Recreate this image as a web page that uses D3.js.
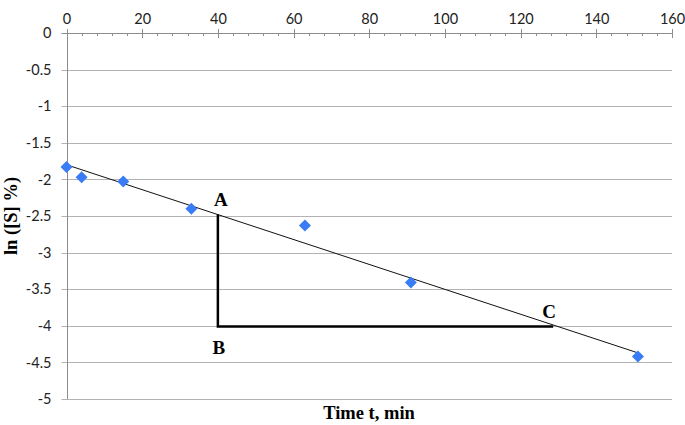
<!DOCTYPE html>
<html>
<head>
<meta charset="utf-8">
<script src="https://cdn.jsdelivr.net/npm/d3@7"></script>
<style>
  body { margin: 0; background: #fff; }
  svg { display: block; }
</style>
</head>
<body>
<div id="chart"></div>
<script>
// measured points: time (min) vs ln([S] %)
const timeMin = [0, 4, 15, 33, 63, 91, 151];
const lnS = [-1.83, -1.97, -2.03, -2.40, -2.63, -3.41, -4.42];

// fitted trend line end points
const trendX = [0, 151];
const trendY = [-1.80, -4.37];

// slope triangle A-B-C
const triLabels = ['A', 'B', 'C'];
const triX = [40, 40, 128.6];
const triY = [-2.48, -4.01, -4.01];

const xTicks = [0, 20, 40, 60, 80, 100, 120, 140, 160];
const yTicks = [0, -0.5, -1, -1.5, -2, -2.5, -3, -3.5, -4, -4.5, -5];

const width = 685, height = 425;
const margin = { left: 66.5, right: 13, top: 33, bottom: 26 };

const svg = d3.select('#chart').append('svg')
  .attr('width', width)
  .attr('height', height);

const x = d3.scaleLinear().domain([0, 160]).range([margin.left, width - margin.right]);
const y = d3.scaleLinear().domain([0, -5]).range([margin.top, height - margin.bottom]);

const gridColor = '#b3b3b3';
const axisColor = '#8c8c8c';
const tickFont = 'Lato, "Open Sans", sans-serif';
const serif = '"Liberation Serif", "Times New Roman", serif';

// horizontal gridlines (extending left as tick marks)
svg.append('g')
  .selectAll('line')
  .data(yTicks)
  .enter()
  .append('line')
  .attr('x1', x(0) - 5)
  .attr('x2', x(160))
  .attr('y1', d => Math.round(y(d)) + 0.5)
  .attr('y2', d => Math.round(y(d)) + 0.5)
  .attr('stroke', (d, i) => i === 0 ? axisColor : gridColor)
  .attr('stroke-width', 1);

// vertical axis line
svg.append('line')
  .attr('x1', Math.round(x(0)) + 0.5)
  .attr('x2', Math.round(x(0)) + 0.5)
  .attr('y1', y(0))
  .attr('y2', y(-5))
  .attr('stroke', axisColor);

// top axis labels
const xAxis = d3.axisTop(x)
  .tickValues(xTicks)
  .tickSize(0)
  .tickFormat(d => String(d))
  .tickPadding(10);

const axisG = svg.append('g')
  .attr('transform', `translate(0,${Math.round(y(0)) + 0.5})`)
  .call(xAxis);
axisG.select('.domain').remove();
axisG.selectAll('text')
  .attr('font-family', tickFont)
  .attr('font-size', 14.5)
  .attr('fill', '#222');

// major ticks cross the axis, minor ticks hang below
const minorTicks = d3.range(0, 161, 4).filter(v => v % 20 !== 0);
svg.append('g')
  .selectAll('line')
  .data(xTicks)
  .enter()
  .append('line')
  .attr('x1', d => Math.round(x(d)) + 0.5)
  .attr('x2', d => Math.round(x(d)) + 0.5)
  .attr('y1', y(0) - 4)
  .attr('y2', y(0) + 5)
  .attr('stroke', axisColor);
svg.append('g')
  .selectAll('line')
  .data(minorTicks)
  .enter()
  .append('line')
  .attr('x1', d => Math.round(x(d)) + 0.5)
  .attr('x2', d => Math.round(x(d)) + 0.5)
  .attr('y1', y(0))
  .attr('y2', y(0) + 3)
  .attr('stroke', axisColor);

// y tick labels (plain hyphen minus, as in the original)
const yAxis = d3.axisLeft(y)
  .tickValues(yTicks)
  .tickSize(0)
  .tickPadding(15)
  .tickFormat(d => String(d));
const yG = svg.append('g')
  .attr('transform', `translate(${x(0)},0)`)
  .call(yAxis);
yG.select('.domain').remove();
yG.selectAll('text')
  .attr('font-family', tickFont)
  .attr('font-size', 14.5)
  .attr('fill', '#222');

// trend line
const line = d3.line()
  .x(d => x(d[0]))
  .y(d => y(d[1]));
svg.append('path')
  .datum(d3.zip(trendX, trendY))
  .attr('d', line)
  .attr('fill', 'none')
  .attr('stroke', '#111')
  .attr('stroke-width', 1);

// triangle
svg.append('path')
  .datum(d3.zip(triX, triY))
  .attr('d', line)
  .attr('fill', 'none')
  .attr('stroke', '#000')
  .attr('stroke-width', 2.5)
  .attr('stroke-linejoin', 'miter');

const labelOffsets = [[3, -9], [1, 27], [-4, -9]];
svg.append('g')
  .selectAll('text')
  .data(triLabels)
  .enter()
  .append('text')
  .attr('x', (d, i) => x(triX[i]) + labelOffsets[i][0])
  .attr('y', (d, i) => y(triY[i]) + labelOffsets[i][1])
  .attr('text-anchor', 'middle')
  .attr('font-family', serif)
  .attr('font-weight', 'bold')
  .attr('font-size', 19)
  .text(d => d);

// data markers (diamonds)
const diamond = d3.symbol().type(d3.symbolSquare).size(72);
svg.append('g')
  .selectAll('path')
  .data(d3.zip(timeMin, lnS))
  .enter()
  .append('path')
  .attr('d', diamond)
  .attr('transform', d => `translate(${x(d[0])},${y(d[1])}) rotate(45)`)
  .attr('fill', '#3a7cf5');

// axis titles
svg.append('text')
  .attr('x', 369)
  .attr('y', 419)
  .attr('text-anchor', 'middle')
  .attr('font-family', serif)
  .attr('font-weight', 'bold')
  .attr('font-size', 18.5)
  .text('Time t, min');

svg.append('text')
  .attr('transform', 'translate(17,216) rotate(-90)')
  .attr('text-anchor', 'middle')
  .attr('font-family', serif)
  .attr('font-weight', 'bold')
  .attr('font-size', 18.5)
  .text('ln ([S] %)');
</script>
</body>
</html>
